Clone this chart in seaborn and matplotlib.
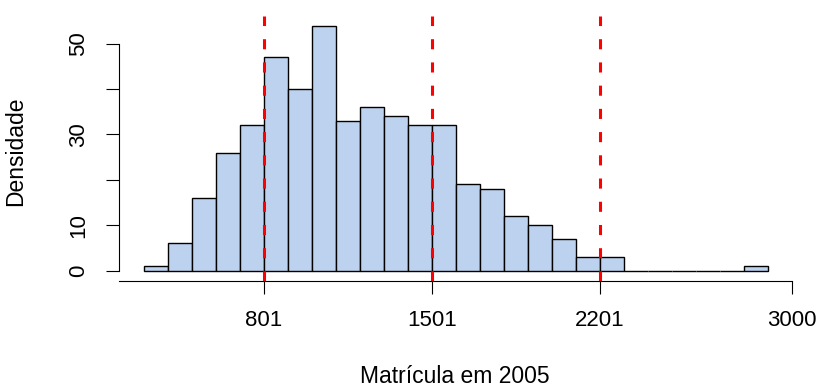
import seaborn as sns
import numpy as np
import pandas as pd
import matplotlib.pyplot as plt

# histogram counts (bins of width 100 starting at 300)
bin_edges = list(range(300, 3000, 100))
counts = [1, 6, 16, 26, 32, 47, 40, 54, 33, 36, 34, 32, 32,
          19, 18, 12, 10, 7, 3, 3, 0, 0, 0, 0, 0, 1]
cut_points = [801, 1501, 2201]
x_ticks = [801, 1501, 2201, 3000]
y_ticks = [0, 10, 20, 30, 40, 50]
y_ticklabels = ["0", "10", "", "30", "", "50"]

df = pd.DataFrame({"Matricula": np.array(bin_edges[:-1]) + 50, "n": counts})

sns.set_style("white")
plt.rcParams["font.family"] = ["Liberation Sans", "DejaVu Sans"]

fig = plt.figure(figsize=(8.21, 3.89), dpi=100)
ax = fig.add_axes([0.1447, 0.2789, 0.821, 0.6807])

sns.histplot(data=df, x="Matricula", weights="n", bins=bin_edges,
             color="#BCD2EE", edgecolor="black", linewidth=1.0, alpha=1,
             ax=ax)

for c in cut_points:
    ax.axvline(c, color="red", lw=2.2, dashes=(3.3, 4.3), zorder=5)

ax.set_xlim(196, 3004)
ax.set_ylim(-2.16, 56.16)

ax.set_xticks(x_ticks)
ax.set_xticklabels([str(t) for t in x_ticks])
ax.set_yticks(y_ticks)
ax.set_yticklabels(y_ticklabels, rotation=90, va="center")

ax.tick_params(axis="both", bottom=True, left=True, direction="out",
               length=9.2, width=0.8, color="black",
               labelsize=16, labelcolor="black")
ax.tick_params(axis="x", pad=12)
ax.tick_params(axis="y", pad=12)

for s in ["top", "right"]:
    ax.spines[s].set_visible(False)
for s in ["left", "bottom"]:
    ax.spines[s].set_color("black")
    ax.spines[s].set_linewidth(0.8)
ax.spines["left"].set_bounds(0, 50)
ax.spines["bottom"].set_bounds(196, 3000)

ax.set_xlabel("Matrícula em 2005", fontsize=16.5, color="black")
ax.set_ylabel("Densidade", fontsize=16.5, color="black")
ax.xaxis.set_label_coords(0.499, -0.318)
ax.yaxis.set_label_coords(-0.136, 0.489)

fig.savefig("out.png", dpi=100)
